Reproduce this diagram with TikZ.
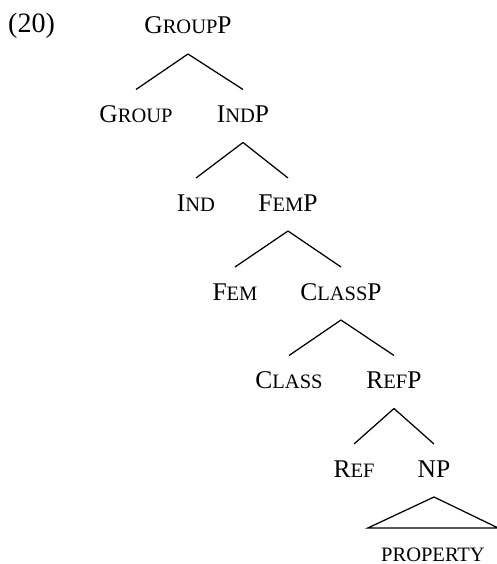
\documentclass[tikz,border=0pt]{standalone}
\usepackage{fontspec}
\setmainfont{Liberation Serif}
\newcommand\lowcaps[1]{{\fontsize{20.5}{23}\selectfont #1}}
\tikzset{
  cat/.style={anchor=base, inner sep=0pt, text height=16pt, text depth=3pt,
              outer ysep=17pt, font=\fontsize{25.5}{29}\selectfont},
  branch/.style={line width=1.25pt},
}

\begin{document}
\begin{tikzpicture}[x=1pt,y=-1pt]
  \useasboundingbox (0,0) rectangle (497,564);
  \node[cat, anchor=base west, font=\fontsize{28}{32}\selectfont] (exno) at (8,33) {(20)};
  % categories, one row per level
  \node[cat] (groupP) at (188,34) {G\lowcaps{ROUP}P};
  \node[cat] (group) at (136,122.5) {G\lowcaps{ROUP}};
  \node[cat] (indP) at (243,122.5) {I\lowcaps{ND}P};
  \node[cat] (ind) at (196,211) {I\lowcaps{ND}};
  \node[cat] (femP) at (288,211) {F\lowcaps{EM}P};
  \node[cat] (fem) at (235,300) {F\lowcaps{EM}};
  \node[cat] (classP) at (341,300) {C\lowcaps{LASS}P};
  \node[cat] (class) at (289,388.5) {C\lowcaps{LASS}};
  \node[cat] (refP) at (394,388.5) {R\lowcaps{EF}P};
  \node[cat] (ref) at (354,477) {R\lowcaps{EF}};
  \node[cat] (np) at (434,477) {NP};
  \node[cat, text depth=1pt, minimum width=130pt] (prop) at (433,561) {\lowcaps{PROPERTY}};
  % branches
  \draw[branch] (groupP.south) -- (group.north);
  \draw[branch] (groupP.south) -- (indP.north);
  \draw[branch] (indP.south) -- (ind.north);
  \draw[branch] (indP.south) -- (femP.north);
  \draw[branch] (femP.south) -- (fem.north);
  \draw[branch] (femP.south) -- (classP.north);
  \draw[branch] (classP.south) -- (class.north);
  \draw[branch] (classP.south) -- (refP.north);
  \draw[branch] (refP.south) -- (ref.north);
  \draw[branch] (refP.south) -- (np.north);
  % roof over the NP
  \draw[branch] (np.south) -- (prop.north west) -- (prop.north east) -- cycle;
\end{tikzpicture}
\end{document}
